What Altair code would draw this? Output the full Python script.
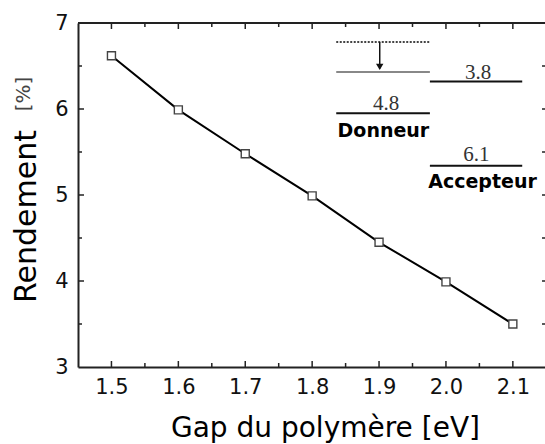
import altair as alt
import pandas as pd

# Main series
gap = [1.5, 1.6, 1.7, 1.8, 1.9, 2.0, 2.1]
rendement = [6.62, 5.99, 5.48, 4.99, 4.45, 3.99, 3.50]

# Axis ticks
x_major = [1.5, 1.6, 1.7, 1.8, 1.9, 2.0, 2.1]
x_minor = [1.55, 1.65, 1.75, 1.85, 1.95, 2.05]
y_labels = [3, 4, 5, 6, 7]
y_major = [4, 5, 6]
y_minor = [3.5, 4.5, 5.5, 6.5]

# Inset (energy-level diagram) in data coordinates
dotted_x1, dotted_x2, dotted_y = [1.836], [1.976], [6.779]
gray_x1, gray_x2, gray_y = [1.836], [1.976], [6.429]
level_x1 = [1.976, 1.836, 1.976]
level_x2 = [2.114, 1.976, 2.114]
level_y = [6.320, 5.952, 5.341]
arrow_x, arrow_y1, arrow_y2, arrow_head_y = [1.901], [6.779], [6.47], [6.49]
num_text = ["3.8", "4.8", "6.1"]
num_x = [2.048, 1.9105, 2.0456]
num_y = [6.351, 5.990, 5.396]
name_text = ["Donneur", "Accepteur"]
name_x = [1.9065, 2.0547]
name_y = [5.679, 5.08]

W, H = 467, 344
XDOM = [1.45, 1.45 + W / 669.0]
YDOM = [3, 7]
FONT = "DejaVu Sans"

xs = alt.Scale(domain=XDOM, nice=False, zero=False)
ys = alt.Scale(domain=YDOM, nice=False, zero=False)

df = pd.DataFrame({"gap": gap, "rendement": rendement})

x_axis = alt.Axis(
    values=x_major, format=".1f", ticks=False, grid=False, labelFlush=False,
    labelFont=FONT, labelFontSize=21, labelColor="#111", labelPadding=9,
    domainColor="#222", domainWidth=2,
    title="Gap du polymère [eV]", titleFont=FONT, titleFontSize=28,
    titleFontWeight="normal", titleColor="#000", titleX=247, titleY=69,
    titleBaseline="alphabetic", titleAlign="center",
)
y_axis = alt.Axis(
    values=y_labels, format="d", ticks=False, grid=False, labelFlush=False,
    labelFont=FONT, labelFontSize=21, labelColor="#111", labelPadding=10,
    domainColor="#222", domainWidth=2,
    title="Rendement", titleFont=FONT, titleFontSize=30,
    titleFontWeight="normal", titleColor="#000", titleX=-43, titleY=193,
    titleAngle=270, titleBaseline="alphabetic", titleAlign="center",
)

line = alt.Chart(df).mark_line(color="#000", strokeWidth=2).encode(
    x=alt.X("gap:Q", scale=xs, axis=x_axis),
    y=alt.Y("rendement:Q", scale=ys, axis=y_axis),
)
pts = alt.Chart(df).mark_point(
    shape="square", size=64, filled=True, fill="white", stroke="#444", strokeWidth=1.4, opacity=1
).encode(x=alt.X("gap:Q", scale=xs), y=alt.Y("rendement:Q", scale=ys))

def xticks(vals, length, top):
    d = pd.DataFrame({"v": vals})
    if top:
        y1, y2 = 0, length
    else:
        y1, y2 = H, H - length
    return alt.Chart(d).mark_rule(color="#222", strokeWidth=1.5).encode(
        x=alt.X("v:Q", scale=xs), y=alt.value(y1), y2=alt.value(y2))

def yticks(vals, length, right):
    d = pd.DataFrame({"v": vals})
    if right:
        x1, x2 = W + 1, W + 1 - length
    else:
        x1, x2 = 0, length
    return alt.Chart(d).mark_rule(color="#222", strokeWidth=1.5).encode(
        y=alt.Y("v:Q", scale=ys), x=alt.value(x1), x2=alt.value(x2))

ticks = [
    xticks(x_major, 6, False), xticks(x_minor, 4, False),
    xticks(x_major, 6, True), xticks(x_minor, 4, True),
    yticks(y_major, 6, False), yticks(y_minor, 4, False),
    yticks(y_major + y_minor, 4, True),
]

top_border = alt.Chart(pd.DataFrame({"a": [0]})).mark_rule(color="#222", strokeWidth=2).encode(
    x=alt.value(0), x2=alt.value(W), y=alt.value(0))

def seg(x1, x2, y, **kw):
    d = pd.DataFrame({"x1": x1, "x2": x2, "y": y})
    return alt.Chart(d).mark_rule(**kw).encode(
        x=alt.X("x1:Q", scale=xs), x2="x2:Q", y=alt.Y("y:Q", scale=ys))

dotted = seg(dotted_x1, dotted_x2, dotted_y, color="#444", strokeWidth=2, strokeDash=[2, 1.5])
gray = seg(gray_x1, gray_x2, gray_y, color="#888", strokeWidth=2)
levels = seg(level_x1, level_x2, level_y, color="#111", strokeWidth=2)

arr_df = pd.DataFrame({"x": arrow_x, "y1": arrow_y1, "y2": arrow_y2, "h": arrow_head_y})
arrow = alt.Chart(arr_df).mark_rule(color="#111", strokeWidth=1.5).encode(
    x=alt.X("x:Q", scale=xs), y=alt.Y("y1:Q", scale=ys), y2="y2:Q")
head = alt.Chart(arr_df).mark_point(
    shape="triangle-down", size=55, filled=True, color="#111", opacity=1
).encode(x=alt.X("x:Q", scale=xs), y=alt.Y("h:Q", scale=ys))

nums = alt.Chart(pd.DataFrame({"t": num_text, "x": num_x, "y": num_y})).mark_text(
    font="Liberation Serif", fontSize=21, color="#333", baseline="alphabetic", align="center"
).encode(x=alt.X("x:Q", scale=xs), y=alt.Y("y:Q", scale=ys), text="t:N")
names = alt.Chart(pd.DataFrame({"t": name_text, "x": name_x, "y": name_y})).mark_text(
    font=FONT, fontSize=19, fontWeight="bold", color="#000", baseline="alphabetic", align="center"
).encode(x=alt.X("x:Q", scale=xs), y=alt.Y("y:Q", scale=ys), text="t:N")

pct = alt.Chart(pd.DataFrame({"t": ["[%]"]})).mark_text(
    font=FONT, fontSize=20, color="#444", angle=270, baseline="alphabetic", align="center"
).encode(x=alt.value(-48), y=alt.value(71), text="t:N")

chart = alt.layer(
    line, pts, *ticks, top_border, dotted, gray, levels, arrow, head, nums, names, pct
).properties(
    width=W, height=H,
    autosize=alt.AutoSizeParams(type="none"),
    padding={"left": 78, "top": 23, "right": 0, "bottom": 77},
    background="white",
).configure_view(stroke=None)

chart.save("out.html", embed_options={"renderer": "svg", "actions": False})
